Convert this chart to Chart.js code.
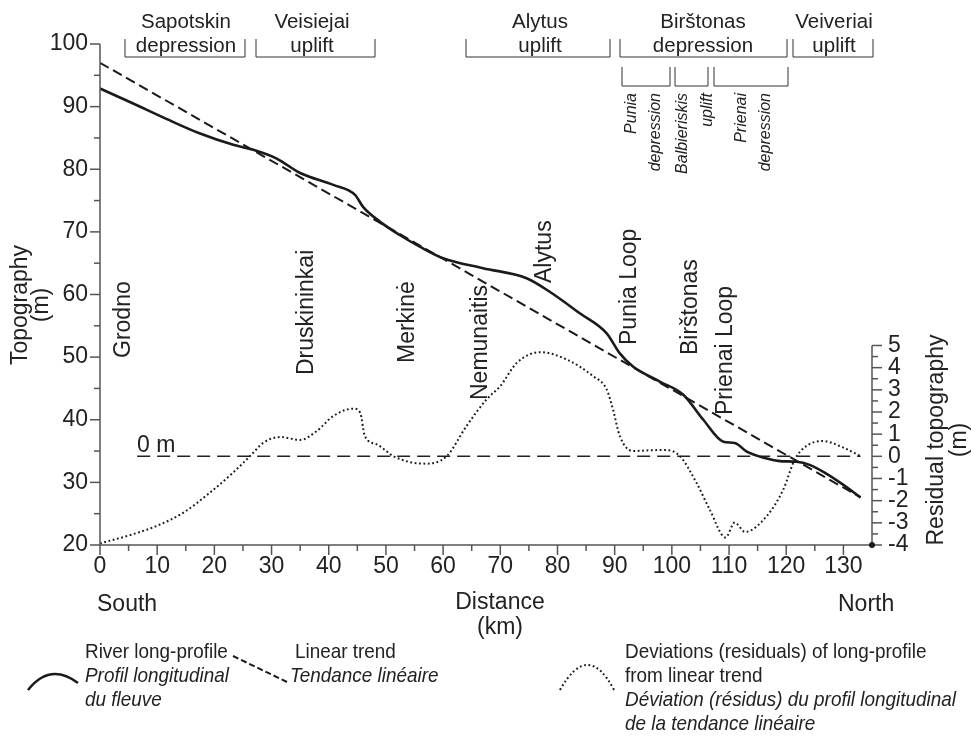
<!DOCTYPE html>
<html>
<head>
<meta charset="utf-8">
<title>Nemunas long-profile</title>
<script src="https://cdn.jsdelivr.net/npm/chart.js@4/dist/chart.umd.min.js"></script>
<style>
  html, body { margin: 0; padding: 0; background: #fff; }
  #wrap { width: 971px; height: 755px; position: relative; }
</style>
</head>
<body>
<div id="wrap"><canvas id="profileChart"></canvas></div>
<script>
// Values
const xTicks = [0, 10, 20, 30, 40, 50, 60, 70, 80, 90, 100, 110, 120, 130];
const yTicks = [20, 30, 40, 50, 60, 70, 80, 90, 100];
const y2Ticks = [-4, -3, -2, -1, 0, 1, 2, 3, 4, 5];

// River long-profile (km, m)
const profileKm = [0, 5.8, 11.7, 17.5, 23.3, 26.8, 30.9, 35, 40.8, 44.6, 46, 49, 52.4, 56, 60, 67, 74.6, 78.7,
  83.9, 88.6, 90.9, 93.2, 97.9, 102, 105.5, 109, 111, 113.1, 116.6, 118.9, 121.8, 124.1, 127, 130, 133];
const profileM = [92.9, 90.5, 88.0, 85.7, 83.9, 83.1, 81.7, 79.4, 77.5, 75.9, 74.0, 71.6, 69.5, 67.6, 65.8, 64.2, 62.6, 60.4,
  57.0, 53.8, 50.6, 48.5, 46.1, 44.0, 40.0, 36.5, 36.3, 34.9, 33.8, 33.4, 33.3, 32.8, 31.4, 29.6, 27.6];

// Linear trend
const trendKm = [0, 133];
const trendM = [97, 27.6];

// Residuals (right axis, m)
const residKm = [0, 5.8, 9.9, 14.6, 19.2, 23.3, 26.2, 28.6, 31.5, 35, 37.9, 40.8, 44.3, 45.5, 46.3, 48.4, 51.3, 54.2,
  57.1, 60.6, 64.1, 67.6, 70, 72.9, 77, 81.6, 86.2, 88.6, 89.7, 90.9, 93.2, 97.3, 99.1, 101.4, 104.3, 106.6,
  109.4, 111, 112.8, 116.6, 119.5, 121.5, 123.5, 126.4, 130, 133];
const residM = [-3.93, -3.51, -3.14, -2.54, -1.64, -0.73, 0, 0.62, 0.87, 0.74, 1.14, 1.82, 2.15, 1.97, 0.92, 0.54, 0.01, -0.26,
  -0.33, 0, 1.37, 2.57, 3.17, 4.22, 4.70, 4.37, 3.62, 3.02, 2.12, 0.91, 0.24, 0.28, 0.28, 0.01, -1.19, -2.39,
  -3.66, -2.99, -3.41, -2.69, -1.49, -0.14, 0.46, 0.69, 0.39, 0.01];

// "0 m" reference line
const zeroKm = [6.5, 133];
const zeroM = [0, 0];

const INK = '#1a1a1a';
const AXIS = '#555';
const FONT = '"Liberation Sans", Arial, sans-serif';

const pts = (xs, ys) => xs.map((v, i) => ({ x: v, y: ys[i] }));

// Draw a small bracket (open at the top)
function bracket(ctx, x1, x2, yTop, yBot) {
    ctx.beginPath();
    ctx.moveTo(x1, yTop);
    ctx.lineTo(x1, yBot);
    ctx.lineTo(x2, yBot);
    ctx.lineTo(x2, yTop);
    ctx.stroke();
}

// Rotated text (reads bottom to top)
function vText(ctx, text, x, y, align) {
    ctx.save();
    ctx.translate(x, y);
    ctx.rotate(-Math.PI / 2);
    ctx.textAlign = align;
    ctx.textBaseline = 'middle';
    ctx.fillText(text, 0, 0);
    ctx.restore();
}

// Condensed text for the legend (no narrow face installed)
function narrowText(ctx, text, x, y) {
    ctx.save();
    ctx.translate(x, y);
    ctx.scale(0.9, 1);
    ctx.fillText(text, 0, 0);
    ctx.restore();
}

const decorations = {
    id: 'decorations',
    afterDraw(chart) {
        const { ctx, chartArea: area } = chart;
        const { x, y, y2 } = chart.scales;
        const line = (a, b, c, d) => { ctx.beginPath(); ctx.moveTo(a, b); ctx.lineTo(c, d); ctx.stroke(); };

        ctx.save();
        // axes and tick marks
        ctx.strokeStyle = AXIS;
        ctx.lineWidth = 1.5;
        const bottom = area.bottom;
        line(area.left, y.getPixelForValue(100), area.left, bottom);
        line(area.left, bottom, area.right, bottom);
        line(area.right, y2.getPixelForValue(5), area.right, bottom);
        xTicks.forEach((v, i) => {
            const px = x.getPixelForValue(v);
            line(px, bottom, px, bottom + 10);
            if (i < xTicks.length - 1) {
                const pm = x.getPixelForValue(v + 5);
                line(pm, bottom, pm, bottom + 6);
            }
        });
        yTicks.forEach((v, i) => {
            const py = y.getPixelForValue(v);
            line(area.left - 10, py, area.left, py);
            if (i < yTicks.length - 1) {
                const pm = y.getPixelForValue(v + 5);
                line(area.left - 6, pm, area.left, pm);
            }
        });
        y2Ticks.forEach((v, i) => {
            const py = y2.getPixelForValue(v);
            line(area.right, py, area.right + 10, py);
            if (i < y2Ticks.length - 1) {
                const pm = y2.getPixelForValue(v + 0.5);
                line(area.right, pm, area.right + 6, pm);
            }
        });
        ctx.fillStyle = INK;
        ctx.beginPath();
        ctx.arc(area.right, bottom, 3, 0, Math.PI * 2);
        ctx.fill();

        // brackets for the tectonic units
        ctx.strokeStyle = '#333';
        ctx.lineWidth = 1;
        [[125, 245], [256, 375], [466, 610], [620, 787], [793, 873]].forEach(b => bracket(ctx, b[0], b[1], 39, 57));
        [[622, 670], [675, 708], [714, 788]].forEach(b => bracket(ctx, b[0], b[1], 67, 86));

        ctx.fillStyle = '#222';
        ctx.textAlign = 'center';
        ctx.textBaseline = 'alphabetic';
        ctx.font = '20.5px ' + FONT;
        [['Sapotskin', 'depression', 186], ['Veisiejai', 'uplift', 312], ['Alytus', 'uplift', 540],
         ['Birštonas', 'depression', 703], ['Veiveriai', 'uplift', 834]].forEach(t => {
            ctx.fillText(t[0], t[2], 28);
            ctx.fillText(t[1], t[2], 52);
        });

        ctx.font = 'italic 16px ' + FONT;
        [['Punia', 632], ['depression', 656], ['Balbieriskis', 683], ['uplift', 708],
         ['Prienai', 742], ['depression', 766]].forEach(t => vText(ctx, t[0], t[1], 93, 'right'));

        // place names along the river
        ctx.font = '23px ' + FONT;
        [['Grodno', 124, 358], ['Druskininkai', 307, 375], ['Merkinė', 408, 363], ['Nemunaitis', 481, 400],
         ['Alytus', 545, 283], ['Punia Loop', 630, 345], ['Birštonas', 691, 355], ['Prienai Loop', 726, 415]]
            .forEach(t => vText(ctx, t[0], t[1], t[2], 'left'));

        ctx.textAlign = 'left';
        ctx.textBaseline = 'alphabetic';
        ctx.fillText('0 m', 137, 452);

        // axis titles
        vText(ctx, 'Topography', 21, 305, 'center');
        vText(ctx, '(m)', 42, 305, 'center');
        vText(ctx, 'Residual topography', 937, 440, 'center');
        vText(ctx, '(m)', 960, 440, 'center');

        ctx.textBaseline = 'middle';
        ctx.textAlign = 'left';
        ctx.fillText('South', 97, 605);
        ctx.fillText('North', 838, 605);
        ctx.textAlign = 'center';
        ctx.fillText('Distance', 500, 603);
        ctx.fillText('(km)', 500, 628);

        // legend
        ctx.strokeStyle = INK;
        ctx.lineWidth = 2.6;
        ctx.beginPath();
        ctx.moveTo(28, 690);
        ctx.quadraticCurveTo(50, 662, 78, 683);
        ctx.stroke();
        ctx.lineWidth = 2;
        ctx.setLineDash([6, 3]);
        line(233, 656, 287, 682);
        ctx.setLineDash([1.8, 2.6]);
        ctx.beginPath();
        ctx.moveTo(560, 690);
        ctx.quadraticCurveTo(588, 640, 614, 690);
        ctx.stroke();
        ctx.setLineDash([]);

        ctx.fillStyle = '#222';
        ctx.textAlign = 'left';
        ctx.textBaseline = 'middle';
        const reg = '21px ' + FONT;
        const ital = 'italic 21px ' + FONT;
        [[reg, 'River long-profile', 85, 652], [ital, 'Profil longitudinal', 85, 676], [ital, 'du fleuve', 85, 700],
         [reg, 'Linear trend', 295, 652], [ital, 'Tendance linéaire', 290, 676],
         [reg, 'Deviations (residuals) of long-profile', 625, 652], [reg, 'from linear trend', 625, 676],
         [ital, 'Déviation (résidus) du profil longitudinal', 625, 700], [ital, 'de la tendance linéaire', 625, 724]]
            .forEach(t => { ctx.font = t[0]; narrowText(ctx, t[1], t[2], t[3]); });
        ctx.restore();
    }
};

const tickFont = { family: FONT, size: 23 };

new Chart(document.getElementById('profileChart'), {
    type: 'line',
    data: {
        datasets: [
            {
                data: pts(profileKm, profileM), yAxisID: 'y',
                borderColor: INK, borderWidth: 2.6, pointRadius: 0,
                cubicInterpolationMode: 'monotone'
            },
            {
                data: pts(trendKm, trendM), yAxisID: 'y',
                borderColor: INK, borderWidth: 2, borderDash: [10, 5], pointRadius: 0
            },
            {
                data: pts(residKm, residM), yAxisID: 'y2',
                borderColor: INK, borderWidth: 2, borderDash: [1.8, 2.6], pointRadius: 0,
                cubicInterpolationMode: 'monotone'
            },
            {
                data: pts(zeroKm, zeroM), yAxisID: 'y2',
                borderColor: '#222', borderWidth: 1.5, borderDash: [13, 7], pointRadius: 0
            }
        ]
    },
    options: {
        responsive: true,
        maintainAspectRatio: false,
        animation: false,
        layout: { padding: { top: 44 } },
        plugins: { legend: { display: false }, tooltip: { enabled: false } },
        scales: {
            x: {
                type: 'linear', min: 0, max: 135,
                afterBuildTicks: s => { s.ticks = xTicks.map(v => ({ value: v })); },
                afterFit: s => { s.height = 210; },
                grid: { display: false, drawTicks: false },
                border: { display: false },
                ticks: { font: tickFont, color: '#222', padding: 8, maxRotation: 0, autoSkip: false }
            },
            y: {
                position: 'left', min: 20, max: 100,
                afterBuildTicks: s => { s.ticks = yTicks.map(v => ({ value: v })); },
                afterFit: s => { s.width = 100; },
                grid: { display: false, drawTicks: false },
                border: { display: false },
                ticks: { font: tickFont, color: '#222', padding: 12 }
            },
            y2: {
                position: 'right', min: -4, max: 18.6,
                afterBuildTicks: s => { s.ticks = y2Ticks.map(v => ({ value: v })); },
                afterFit: s => { s.width = 99; },
                grid: { display: false, drawTicks: false },
                border: { display: false },
                ticks: { font: tickFont, color: '#222', padding: 16 }
            }
        }
    },
    plugins: [decorations]
});
</script>
</body>
</html>
